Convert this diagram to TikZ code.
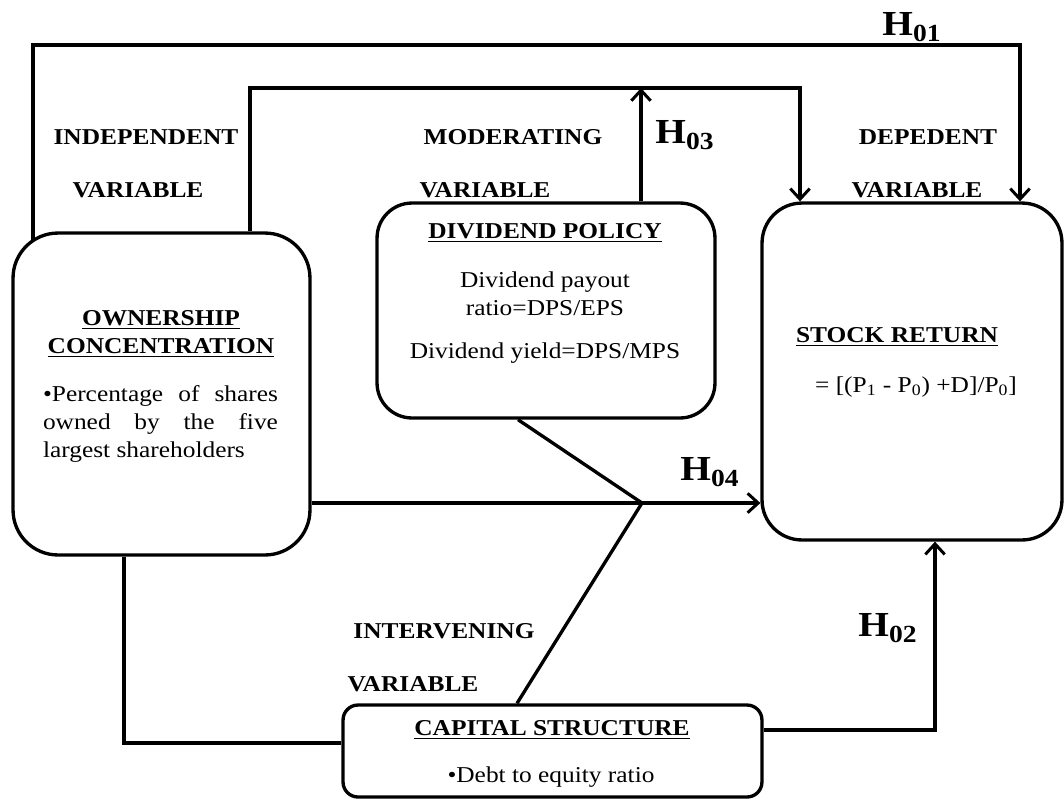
\documentclass[tikz,border=0pt]{standalone}
\usepackage{fontspec}
\setmainfont{Liberation Serif}[FakeStretch=1.12]
\usetikzlibrary{arrows.meta}
\begin{document}
\begin{tikzpicture}[x=0.02cm,y=-0.02cm,
  box/.style={draw,line width=1.9pt,rounded corners=#1,inner sep=0pt},
  conn/.style={line width=1.9pt},
  arr/.style={conn,-{Straight Barb[length=6pt,width=11pt,line width=1.7pt]}},
  lbl/.style={font=\fontsize{12.9}{15}\selectfont\bfseries,inner sep=0pt},
  txt/.style={font=\fontsize{12.9}{15.9}\selectfont,inner sep=0pt,align=center},
  hyp/.style={font=\fontsize{20}{22}\selectfont\bfseries,inner sep=0pt}]
\useasboundingbox (0,0) rectangle (1064,799);

% boxes
\node[box=0.9cm,minimum width=5.94cm,minimum height=6.44cm] (own) at (161.5,394) {};
\node[box=0.7cm,minimum width=6.76cm,minimum height=4.3cm] (div) at (546,310.5) {};
\node[box=0.8cm,minimum width=6cm,minimum height=6.74cm] (stock) at (912,371.5) {};
\node[box=0.3cm,minimum width=8.38cm,minimum height=1.84cm] (cap) at (552.5,751) {};

% box texts
\node[txt,font=\fontsize{12.9}{15.9}\selectfont\bfseries] (ownt) at (161,334) {\underline{OWNERSHIP}\\\underline{CONCENTRATION}};
\node[txt,align=left] (ownb) at (160.5,424) {\makebox[4.7cm][s]{•Percentage of shares}\\\makebox[4.7cm][s]{owned by the five}\\largest shareholders};
\node[lbl] (divt) at (545,233) {\underline{DIVIDEND POLICY}};
\node[txt] (divb) at (545,294) {Dividend payout\\ratio=DPS/EPS};
\node[txt] (divc) at (545,353) {Dividend yield=DPS/MPS};
\node[lbl] (stockt) at (897,337) {\underline{STOCK RETURN}};
\node[txt] (stockb) at (916,387) {= [(P\textsubscript{1} - P\textsubscript{0}) +D]/P\textsubscript{0}]};
\node[lbl] (capt) at (552,730) {\underline{CAPITAL STRUCTURE}};
\node[txt] (capb) at (551,777) {•Debt to equity ratio};

% category labels
\node[lbl] (ind1) at (146,137) {INDEPENDENT};
\node[lbl] (ind2) at (138,190) {VARIABLE};
\node[lbl] (mod1) at (513,137) {MODERATING};
\node[lbl] (mod2) at (485,190) {VARIABLE};
\node[lbl] (dep1) at (928,137) {DEPEDENT};
\node[lbl] (dep2) at (917,190) {VARIABLE};
\node[lbl] (int1) at (444,631) {INTERVENING};
\node[lbl] (int2) at (413,684) {VARIABLE};

% hypothesis labels
\node[hyp] (h01) at (912,27) {H\textsubscript{01}};
\node[hyp] (h03) at (685,135) {H\textsubscript{03}};
\node[hyp] (h04) at (710,472) {H\textsubscript{04}};
\node[hyp] (h02) at (888,628) {H\textsubscript{02}};

% coordinates
\coordinate (a1) at (33,241);
\coordinate (a2) at (1020,45);
\coordinate (b1) at (250,88);
\coordinate (b2) at (800,88);
\coordinate (c1) at (641,88);
\coordinate (j) at (642,503);
\coordinate (e1) at (518,418);
\coordinate (f1) at (517,705);
\coordinate (g1) at (124,743);
\coordinate (k1) at (935,730);

% connectors
\draw[arr] (a1) |- (a2) -- (stock.north -| a2);
\draw[arr] (own.north -| b1) -- (b1) -- (b2) -- (stock.north -| b2);
\draw[arr] (div.north -| c1) -- (c1);
\draw[arr] (own.east |- j) -- (stock.west |- j);
\draw[conn] (div.south -| e1) -- (j);
\draw[conn] (cap.north -| f1) -- (j);
\draw[conn] (own.south -| g1) -- (g1) -- (cap.west |- g1);
\draw[arr] (cap.east |- k1) -- (k1) -- (stock.south -| k1);
\end{tikzpicture}
\end{document}
